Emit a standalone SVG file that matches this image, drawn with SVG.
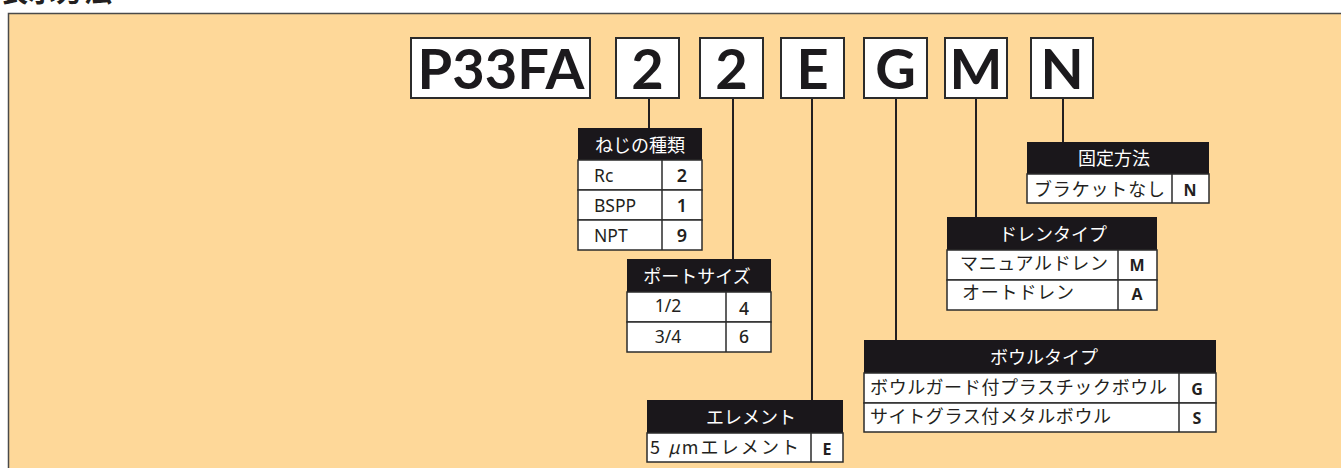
<svg xmlns="http://www.w3.org/2000/svg" width="1341" height="468" viewBox="0 0 1341 468">
<style>
.code{fill:#fff;stroke:#2b2b2b;stroke-width:2}
.ct{font-family:Lato,"Open Sans",sans-serif;font-weight:700;font-size:56px;fill:#1c1a1d;text-anchor:middle}
.hd{fill:#1a171b}
.row{fill:#fff;stroke:#2b2b2b;stroke-width:1.5}
.ht{font-family:"Noto Sans CJK JP",sans-serif;font-size:18px;fill:#fff;text-anchor:middle}
.rt{font-family:"Noto Sans","Noto Sans CJK JP",sans-serif;font-size:17.5px;fill:#231f20}
.jt{font-family:"Noto Sans CJK JP",sans-serif;font-size:18px;fill:#231f20}
.vt{font-family:"Open Sans","Noto Sans",sans-serif;font-weight:700;font-size:16px;fill:#231f20;text-anchor:middle}
.nt{font-family:"Noto Sans",sans-serif;font-weight:600;font-size:18px;fill:#231f20;text-anchor:middle}
.ln{stroke:#231f20;stroke-width:2;fill:none}
</style>
<rect x="0" y="0" width="1341" height="468" fill="#ffffff"/>
<text x="0" y="2" font-family="Noto Sans CJK JP,sans-serif" font-weight="700" font-size="28" fill="#231f20">表示方法</text>
<rect x="8.5" y="13.5" width="1340" height="470" fill="#fed899" stroke="#4a4a4a" stroke-width="1.5"/>
<g id="connectors">
<line class="ln" x1="649" y1="98" x2="649" y2="128"/>
<line class="ln" x1="733" y1="98" x2="733" y2="259"/>
<line class="ln" x1="812" y1="98" x2="812" y2="400"/>
<line class="ln" x1="896" y1="98" x2="896" y2="340"/>
<line class="ln" x1="976" y1="98" x2="976" y2="217"/>
<line class="ln" x1="1063" y1="98" x2="1063" y2="142"/>
</g>
<g id="code-P33FA"><rect class="code" x="411" y="38" width="179" height="60"/><text class="ct" x="501" y="89">P33FA</text></g>
<g id="code-2a"><rect class="code" x="616" y="38" width="63" height="60"/><text class="ct" x="647.5" y="89">2</text></g>
<g id="code-2b"><rect class="code" x="700" y="38" width="63" height="60"/><text class="ct" x="731.5" y="89">2</text></g>
<g id="code-E"><rect class="code" x="781" y="38" width="63" height="60"/><text class="ct" x="812.5" y="89">E</text></g>
<g id="code-G"><rect class="code" x="864" y="38" width="63" height="60"/><text class="ct" x="895.5" y="89">G</text></g>
<g id="code-M"><rect class="code" x="945" y="38" width="62" height="60"/><text class="ct" x="976" y="89">M</text></g>
<g id="code-N"><rect class="code" x="1031" y="38" width="62" height="60"/><text class="ct" x="1062" y="89">N</text></g>

<g id="table-thread">
<rect class="hd" x="578" y="128" width="124" height="32"/>
<text class="ht" x="640" y="152">ねじの種類</text>
<rect class="row" x="578" y="160" width="124" height="30"/>
<rect class="row" x="578" y="190" width="124" height="30"/>
<rect class="row" x="578" y="220" width="124" height="30"/>
<line class="row" x1="662" y1="160" x2="662" y2="250"/>
<text class="rt" x="594" y="182">Rc</text>
<text class="rt" x="594" y="212">BSPP</text>
<text class="rt" x="594" y="242">NPT</text>
<text class="nt" x="682" y="182">2</text>
<text class="nt" x="682" y="212">1</text>
<text class="nt" x="682" y="242">9</text>
</g>

<g id="table-port">
<rect class="hd" x="627" y="259" width="144" height="33"/>
<text class="ht" x="697" y="283">ポートサイズ</text>
<rect class="row" x="627" y="292" width="144" height="30"/>
<rect class="row" x="627" y="322" width="144" height="30"/>
<line class="row" x1="726" y1="292" x2="726" y2="352"/>
<text class="rt" x="668" y="312" text-anchor="middle">1/2</text>
<text class="rt" x="668" y="343" text-anchor="middle">3/4</text>
<text class="rt" x="744" y="315" text-anchor="middle" font-weight="500">4</text>
<text class="rt" x="744" y="343" text-anchor="middle" font-weight="500">6</text>
</g>

<g id="table-element">
<rect class="hd" x="647" y="400" width="196" height="33"/>
<text class="ht" x="751" y="424">エレメント</text>
<rect class="row" x="647" y="433" width="196" height="29"/>
<line class="row" x1="811" y1="433" x2="811" y2="462"/>
<text class="jt" x="650" y="454" textLength="149">5 <tspan font-style="italic">μ</tspan>mエレメント</text>
<text class="vt" x="827" y="455">E</text>
</g>

<g id="table-bowl">
<rect class="hd" x="864" y="340" width="352" height="33"/>
<text class="ht" x="1044" y="364">ボウルタイプ</text>
<rect class="row" x="864" y="373" width="352" height="30"/>
<rect class="row" x="864" y="403" width="352" height="29"/>
<line class="row" x1="1179" y1="373" x2="1179" y2="432"/>
<text class="jt" x="870" y="394" textLength="297">ボウルガード付プラスチックボウル</text>
<text class="jt" x="870" y="423" textLength="241">サイトグラス付メタルボウル</text>
<text class="vt" x="1197" y="395">G</text>
<text class="vt" x="1197" y="424">S</text>
</g>

<g id="table-drain">
<rect class="hd" x="947" y="217" width="210" height="33"/>
<text class="ht" x="1053" y="241">ドレンタイプ</text>
<rect class="row" x="947" y="250" width="210" height="30"/>
<rect class="row" x="947" y="280" width="210" height="30"/>
<line class="row" x1="1118" y1="250" x2="1118" y2="310"/>
<text class="jt" x="960" y="270" textLength="148">マニュアルドレン</text>
<text class="jt" x="962" y="299" textLength="112">オートドレン</text>
<text class="vt" x="1137" y="271">M</text>
<text class="vt" x="1137" y="300">A</text>
</g>

<g id="table-mount">
<rect class="hd" x="1027" y="142" width="182" height="32"/>
<text class="ht" x="1114" y="165">固定方法</text>
<rect class="row" x="1027" y="174" width="182" height="29"/>
<line class="row" x1="1172" y1="174" x2="1172" y2="203"/>
<text class="jt" x="1034" y="196" textLength="131">ブラケットなし</text>
<text class="vt" x="1190" y="196">N</text>
</g>
</svg>
